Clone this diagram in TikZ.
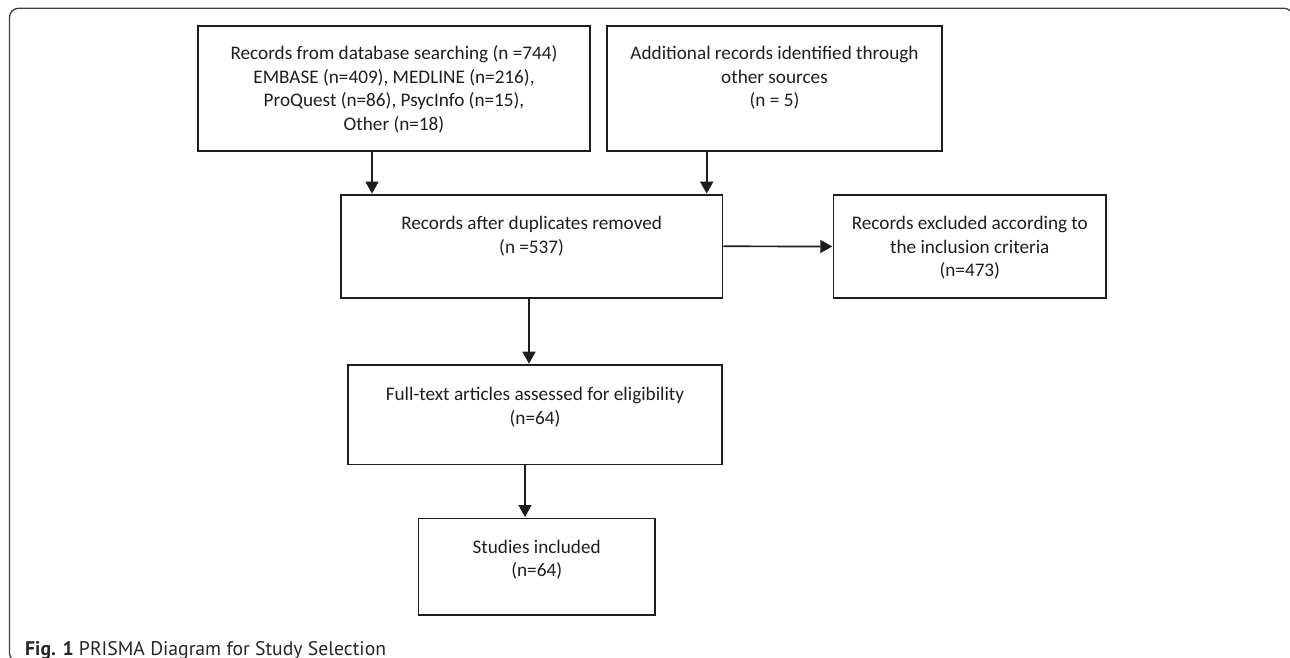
\documentclass[tikz,border=0pt]{standalone}
\usepackage{fontspec}
\setmainfont{Carlito}
\newfontfamily\capfont{PT Sans}
\usetikzlibrary{arrows.meta,calc}
\definecolor{ink}{HTML}{1E1E1E}
\tikzset{
  boxnode/.style={draw=ink, line width=1.7pt, rectangle, inner sep=0pt},
  boxtext/.style={anchor=base, align=center, inner sep=0pt, text=ink, font=\fontsize{19.2}{23.6}\selectfont},
  arr/.style={draw=ink, line width=1.7pt, -{Triangle[length=12pt,width=13pt]}, shorten >=0.5pt},
}
\begin{document}
\begin{tikzpicture}[x=1pt,y=-1pt]
\useasboundingbox (0,0) rectangle (1290,658);
\draw[line width=1.3pt, draw=black!75, rounded corners=9pt] (9.5,8.3) rectangle (1293,662);

\node[boxnode, minimum width=392pt, minimum height=125pt] (b1) at (394,88.2) {};
\node[boxnode, minimum width=335.6pt, minimum height=125pt] (b2) at (774.5,88.2) {};
\node[boxnode, minimum width=381.8pt, minimum height=102.7pt] (b3) at (531.6,246.3) {};
\node[boxnode, minimum width=272.4pt, minimum height=103pt] (b4) at (969.8,246.5) {};
\node[boxnode, minimum width=374.6pt, minimum height=99.3pt] (b5) at (535,414.7) {};
\node[boxnode, minimum width=236.7pt, minimum height=96.7pt] (b6) at (536.7,566.7) {};

% base anchor = baseline of the last line
\node[boxtext] (t1) at ([yshift=-105.6pt]b1.north) {Records from database searching (n =744)\\EMBASE (n=409), MEDLINE (n=216),\\ProQuest (n=86), PsycInfo (n=15),\\Other (n=18)};
\node[boxtext] (t2) at ([yshift=-82pt]b2.north) {Additional records identified through\\other sources\\(n = 5)};
\node[boxtext] (t3) at ([yshift=-59.1pt]b3.north) {Records after duplicates removed\\(n =537)};
\node[boxtext] (t4) at ([yshift=-82.7pt]b4.north) {Records excluded according to\\the inclusion criteria\\(n=473)};
\node[boxtext] (t5) at ([yshift=-59.8pt]b5.north) {Full-text articles assessed for eligibility\\(n=64)};
\node[boxtext] (t6) at ([yshift=-59.2pt]b6.north) {Studies included\\(n=64)};

\draw[arr] ([xshift=-22pt]b1.south) -- ([xshift=-22pt]b1.south |- b3.north);
\draw[arr] ([xshift=-67.8pt]b2.south) -- ([xshift=-67.8pt]b2.south |- b3.north);
\draw[arr] (b3.east) -- (b4.west);
\draw[arr] ([xshift=-2.6pt]b3.south) -- ([xshift=-2.6pt]b3.south |- b5.north);
\draw[arr] ([xshift=-10pt]b5.south) -- ([xshift=-10pt]b5.south |- b6.north);

\node[anchor=base west, inner sep=0pt, text=black!85, font=\capfont\fontsize{19.7}{22}\selectfont] (cap) at (25,655) {\textbf{Fig. 1} PRISMA Diagram for Study Selection};
\end{tikzpicture}
\end{document}
